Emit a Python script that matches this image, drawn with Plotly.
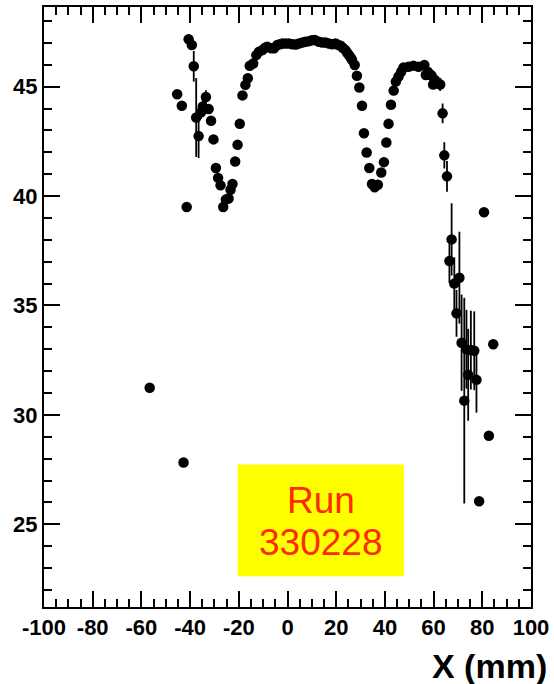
import plotly.graph_objects as go

# Beam position scan: mean response vs X, with statistical errors
x_mm = [
    -56.6, -45.3, -43.4, -42.7, -41.4, -40.6, -39.3, -38.5, -37.5, -36.5,
    -35.5, -34.8, -33.5, -32.4, -31.4, -30.4, -29.4, -28.5, -27.5, -26.4,
    -25.3, -24.2, -23.4, -22.6, -21.5, -20.5, -19.6, -18.5, -17.3, -16.3,
    -15.5, -14.1, -12.8, -11.7, -10.3, -9.2, -8.3, -6.7, -5.5, -4.2,
    -3.1, -2.1, -0.8, 0.6, 2.0, 3.4, 4.7, 6.1, 7.4, 8.8,
    10.0, 11.2, 12.9, 14.2, 15.6, 17.0, 18.3, 19.7, 20.7, 21.8,
    22.7, 23.8, 24.5, 25.2, 26.0, 26.5, 27.6, 28.5, 29.5, 30.6,
    31.4, 32.5, 33.6, 34.7, 35.8, 37.1, 38.5, 39.6, 40.6, 41.5,
    42.5, 43.6, 44.5, 45.6, 46.7, 47.6, 49.7, 51.7, 53.8, 56.2,
    56.8, 57.6, 58.6, 59.2, 59.8, 60.6, 62.0, 62.7, 63.7, 64.4,
    65.5, 66.5, 67.4, 68.5, 69.4, 70.6, 71.5, 72.6, 73.5, 74.2,
    75.3, 76.7, 77.6, 78.7, 80.7, 82.7, 84.5,
]
y_val = [
    31.24, 44.65, 44.13, 27.82, 39.50, 47.17, 46.90, 45.93, 43.59, 42.74,
    43.83, 44.09, 44.53, 43.98, 43.44, 42.59, 41.28, 40.83, 40.49, 39.50,
    39.84, 39.89, 40.29, 40.55, 41.58, 42.34, 43.30, 44.60, 45.08, 45.38,
    45.95, 46.06, 46.44, 46.60, 46.67, 46.78, 46.82, 46.75, 46.75, 46.90,
    46.94, 46.97, 46.97, 46.97, 46.94, 46.93, 46.97, 47.02, 47.05, 47.08,
    47.12, 47.13, 47.05, 47.02, 47.02, 46.97, 46.94, 46.97, 46.91, 46.87,
    46.78, 46.67, 46.55, 46.45, 46.32, 46.22, 45.99, 45.50, 44.96, 44.13,
    42.87, 41.99, 41.28, 40.55, 40.40, 40.52, 41.08, 41.55, 42.45, 43.30,
    44.17, 44.82, 45.23, 45.46, 45.68, 45.87, 45.91, 45.96, 45.91, 45.99,
    45.53, 45.68, 45.56, 45.50, 45.10, 45.30, 45.15, 45.10, 43.78, 41.86,
    40.90, 37.03, 38.02, 36.00, 34.64, 36.27, 33.30, 30.65, 33.00, 31.83,
    32.96, 32.93, 31.60, 26.05, 39.26, 29.05, 33.23,
]
y_err = [
    0, 0, 0, 0, 0, 0, 0, 0.7, 1.8, 1.0,
    0.3, 0.3, 0.3, 0, 0, 0, 0, 0, 0, 0,
    0, 0, 0, 0, 0, 0, 0, 0, 0, 0,
    0, 0, 0, 0, 0, 0, 0, 0, 0, 0,
    0, 0, 0, 0, 0, 0, 0, 0, 0, 0,
    0, 0, 0, 0, 0, 0, 0, 0, 0, 0,
    0, 0, 0, 0, 0, 0, 0, 0, 0, 0,
    0, 0, 0, 0, 0, 0, 0, 0, 0, 0,
    0, 0, 0, 0, 0, 0, 0, 0, 0, 0,
    0, 0, 0, 0, 0, 0, 0, 0.3, 0.45, 0.6,
    0.7, 1.0, 1.65, 1.2, 1.07, 2.1, 2.2, 4.7, 1.8, 2.1,
    1.8, 1.8, 1.5, 0, 0, 0, 0,
]

x_ticks = [-100, -80, -60, -40, -20, 0, 20, 40, 60, 80, 100]
x_tick_labels = ["-100", "-80", "-60", "-40", "-20", "0", "20", "40", "60", "80", "100"]
y_ticks = [25, 30, 35, 40, 45]
y_tick_labels = ["25", "30", "35", "40", "45"]

run_lines = ["Run", "330228"]

FONT = "Liberation Sans"

fig = go.Figure()
fig.add_trace(go.Scatter(
    x=x_mm, y=y_val, mode="markers",
    marker=dict(color="black", size=10.5, line=dict(width=0)),
    error_y=dict(type="data", array=y_err, visible=True, width=0,
                 thickness=1.8, color="black"),
    showlegend=False, cliponaxis=False,
))

axis_common = dict(
    ticks="inside", ticklen=16, tickwidth=2, tickcolor="black",
    showline=True, linewidth=2, linecolor="black", mirror="ticks",
    showgrid=False, zeroline=False,
    tickfont=dict(family=FONT, size=22, color="black", weight="bold"),
)

fig.update_xaxes(
    range=[-100, 100], tickmode="array", tickvals=x_ticks, ticktext=x_tick_labels,
    minor=dict(ticks="inside", ticklen=8, tickwidth=2, tickcolor="black",
               tickmode="linear", tick0=-100, dtick=5, showgrid=False),
    **axis_common,
)
fig.update_yaxes(
    range=[21.22, 48.64], tickmode="array", tickvals=y_ticks, ticktext=y_tick_labels,
    minor=dict(ticks="inside", ticklen=8, tickwidth=2, tickcolor="black",
               tickmode="linear", tick0=0, dtick=1, showgrid=False),
    **axis_common,
)

# Run number box
fig.add_shape(type="rect", xref="x", yref="y", x0=-20.5, x1=47.8, y0=22.63, y1=27.73,
              fillcolor="#ffff00", line=dict(width=0), layer="above")
for line_text, y_line in zip(run_lines, [26.09, 24.18]):
    fig.add_annotation(xref="x", yref="y", x=13.6, y=y_line, text=line_text,
                       showarrow=False, align="center", yanchor="middle",
                       font=dict(family=FONT, size=37, color="#ff2a00"))

# Axis title, right-aligned under the axis end
fig.add_annotation(xref="paper", yref="paper", x=1.0, xshift=18, y=-0.098,
                   xanchor="right", yanchor="middle", text="X (mm)", showarrow=False,
                   font=dict(family=FONT, size=34, color="black", weight="bold"))

fig.update_layout(
    width=554, height=684,
    margin=dict(l=44, r=21, t=5, b=77),
    paper_bgcolor="white", plot_bgcolor="white",
)

fig.write_html("out.html")
